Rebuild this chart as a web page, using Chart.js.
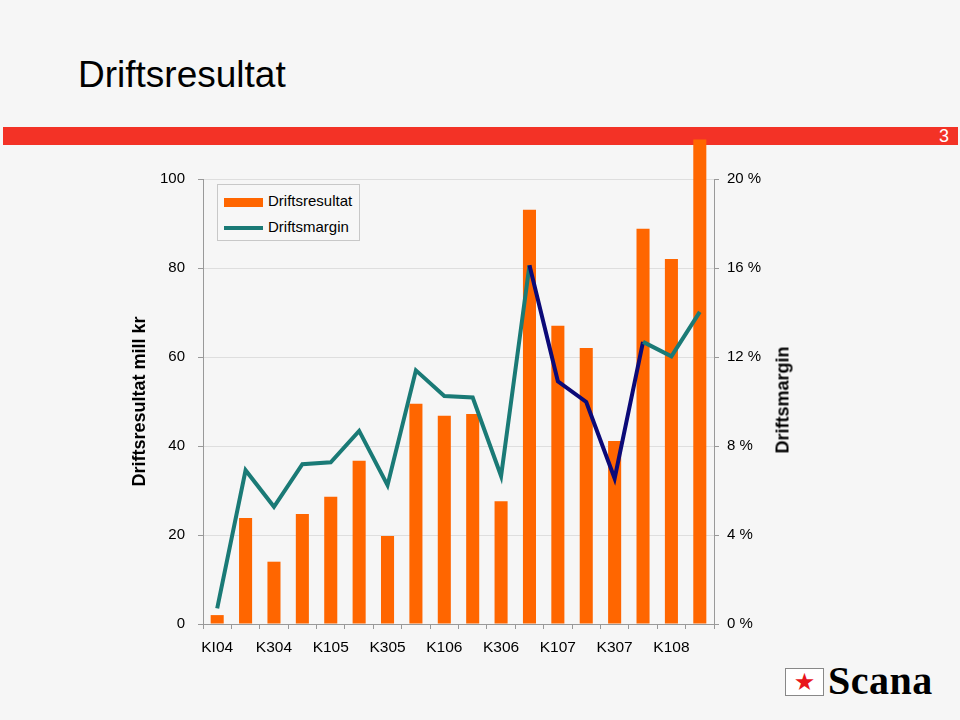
<!DOCTYPE html>
<html>
<head>
<meta charset="utf-8">
<script src="https://cdn.jsdelivr.net/npm/chart.js@4"></script>
<style>
  html, body { margin: 0; padding: 0; }
  body { width: 960px; height: 720px; background: #f6f6f6; position: relative; overflow: hidden;
         font-family: "Liberation Sans", Arial, sans-serif; }
  #title { position: absolute; left: 78px; top: 57px; font-size: 37px; line-height: 36px; color: #000; }
  #band { position: absolute; left: 3px; top: 127px; width: 955px; height: 18px; background: #f33226; }
  #pageno { position: absolute; right: 9px; top: 0; font-size: 18px; line-height: 19px; color: #fff; }
  #wrap { position: absolute; left: 0; top: 0; width: 960px; height: 720px; z-index: 2; }
  #legend { position: absolute; left: 217px; top: 184px; width: 141px; height: 55px; border: 1px solid #c8c8c8;
            background: #f7f7f7; z-index: 3; font-size: 15px; color: #000; }
  .item { position: absolute; left: 6px; height: 18px; line-height: 18px; white-space: nowrap; }
  .sw { display: inline-block; width: 39px; vertical-align: middle; margin-right: 5px; }
  #rtitle { position: absolute; left: 783px; top: 400px; transform: translate(-50%, -50%) rotate(-90deg);
            font-size: 18px; font-weight: bold; white-space: nowrap; z-index: 3; color: #000; }
  #logobox { position: absolute; left: 785px; top: 668px; width: 37px; height: 26px; border: 1px solid #888;
             background: #fff; text-align: center; line-height: 26px; font-size: 24px; color: #e8141b;
             font-family: "DejaVu Sans", sans-serif; }
  #logotxt { position: absolute; left: 828px; top: 661px; font-family: "Liberation Serif", "DejaVu Serif", serif;
             font-weight: bold; font-size: 40px; line-height: 40px; color: #000; letter-spacing: 0.5px; }
</style>
</head>
<body>
<div id="title">Driftsresultat</div>
<div id="band"><span id="pageno">3</span></div>
<div id="wrap"><canvas id="c" width="960" height="720"></canvas></div>
<div id="legend">
  <div class="item" style="top:7px"><span class="sw" style="height:9px;background:#ff6600"></span>Driftsresultat</div>
  <div class="item" style="top:33px"><span class="sw" style="height:4px;background:#1a7a76"></span>Driftsmargin</div>
</div>
<div id="rtitle">Driftsmargin</div>
<div id="logobox">&#9733;</div>
<div id="logotxt">Scana</div>
<script>
const categories = ["KI04","K204","K304","K404","K105","K205","K305","K405","K106","K206","K306","K406","K107","K207","K307","K407","K108","K208"];
const driftsresultat = [2, 23.8, 14, 24.7, 28.6, 36.7, 19.8, 49.5, 46.8, 47.2, 27.6, 93.1, 67, 62, 41.1, 88.8, 82, 108.9];
const driftsmargin = [0.7, 6.91, 5.27, 7.18, 7.27, 8.68, 6.24, 11.4, 10.25, 10.18, 6.65, 16.12, 10.91, 9.98, 6.54, 12.68, 12.03, 14.03];
const leftTicks = [0, 20, 40, 60, 80, 100];
const rightTicks = [0, 4, 8, 12, 16, 20];
const navySegmentStart = 11, navySegmentEnd = 14;

const TEAL = '#1a7a76', NAVY = '#0b0a78', ORANGE = '#ff6600';

new Chart(document.getElementById('c'), {
  data: {
    labels: categories,
    datasets: [
      { type: 'line', label: 'Driftsmargin', data: driftsmargin, yAxisID: 'y2', order: 0,
        borderColor: TEAL, borderWidth: 4, pointRadius: 0, tension: 0, fill: false,
        borderJoinStyle: 'miter', borderCapStyle: 'butt',
        segment: { borderColor: ctx => (ctx.p0DataIndex >= navySegmentStart && ctx.p0DataIndex <= navySegmentEnd) ? NAVY : TEAL } },
      { type: 'bar', label: 'Driftsresultat', data: driftsresultat, yAxisID: 'y', order: 1,
        backgroundColor: ORANGE, borderWidth: 0, categoryPercentage: 1, barPercentage: 0.46, clip: false }
    ]
  },
  options: {
    responsive: false, animation: false,
    layout: { padding: { left: 129, top: 179, right: 186, bottom: 56 } },
    plugins: { legend: { display: false }, tooltip: { enabled: false } },
    scales: {
      x: {
        afterFit: s => { s.height = 40; },
        grid: { offset: true, drawOnChartArea: false, tickLength: 5, color: '#999' },
        border: { color: '#999' },
        ticks: { autoSkip: false, maxRotation: 0, padding: 9, color: '#000',
                 font: { family: '"Liberation Sans", Arial, sans-serif', size: 15.5 },
                 callback: (v, i) => (i % 2 === 0 ? categories[i] : '') }
      },
      y: {
        position: 'left', min: 0, max: 100,
        afterFit: s => { s.width = 74; },
        afterBuildTicks: s => { s.ticks = leftTicks.map(v => ({ value: v })); },
        grid: { color: '#dedede', tickLength: 5, tickColor: '#999' },
        border: { color: '#999' },
        ticks: { padding: 13, color: '#000', font: { family: '"Liberation Sans", Arial, sans-serif', size: 15 } },
        title: { display: true, text: 'Driftsresultat mill kr', color: '#000', padding: 0,
                 font: { family: '"Liberation Sans", Arial, sans-serif', size: 18, weight: 'bold' } }
      },
      y2: {
        position: 'right', min: 0, max: 20,
        afterFit: s => { s.width = 60; },
        afterBuildTicks: s => { s.ticks = rightTicks.map(v => ({ value: v })); },
        grid: { drawOnChartArea: false, tickLength: 5, color: '#999' },
        border: { color: '#999' },
        ticks: { padding: 8, color: '#000', font: { family: '"Liberation Sans", Arial, sans-serif', size: 15 },
                 callback: v => v + ' %' }
      }
    }
  }
});
</script>
</body>
</html>
